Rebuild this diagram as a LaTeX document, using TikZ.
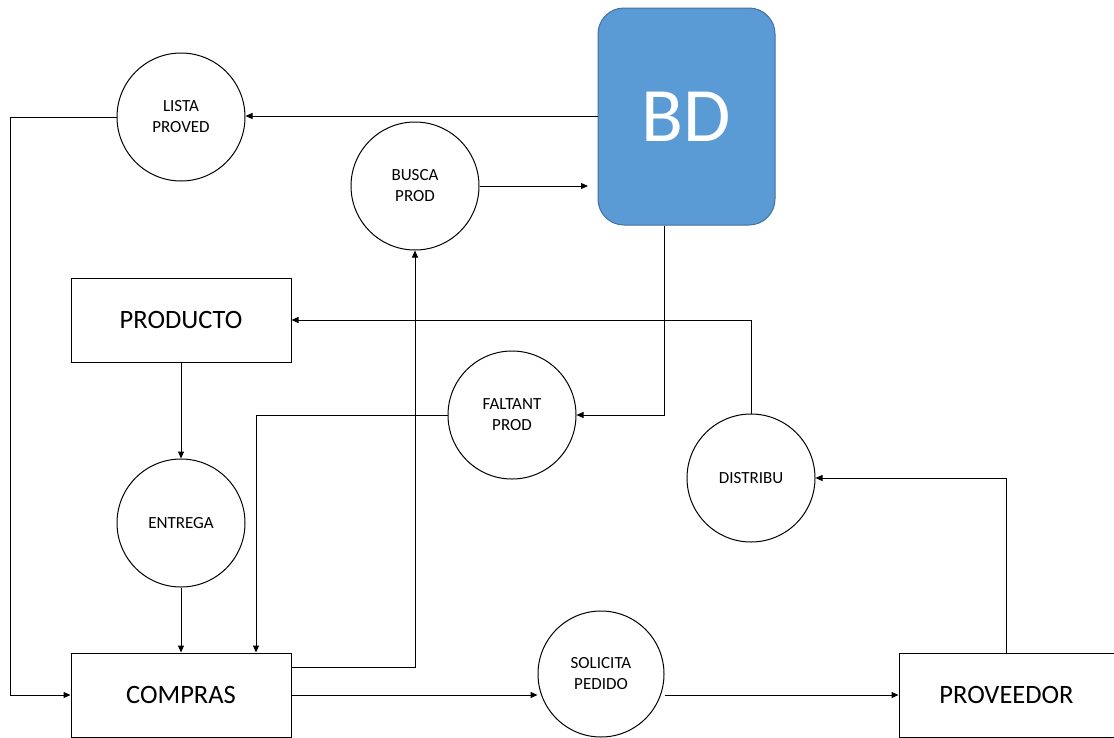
\documentclass[tikz,border=0pt]{standalone}
\usepackage{fontspec}
\setmainfont{Carlito}
\usepackage{tikz}
\usetikzlibrary{calc,arrows.meta}
\def\circsize{128pt}
\tikzstyle{arrow} = [line width=1pt,-{Triangle[length=7pt,width=6pt]}]
\definecolor{bdfill}{HTML}{5B9BD5}
\definecolor{bdline}{HTML}{41719C}

\begin{document}
\begin{tikzpicture}[x=1pt,y=-1pt]
    \tikzstyle{process}=[circle,draw=black,line width=1pt,minimum size=\circsize,inner sep=0pt,align=center,font=\fontsize{17}{21}\selectfont]
    \tikzstyle{entity}=[rectangle,draw=black,line width=1pt,minimum width=220pt,minimum height=84pt,inner sep=0pt,font=\fontsize{26.5}{30}\selectfont]
    \tikzstyle{store}=[rectangle,rounded corners=26pt,draw=bdline,fill=bdfill,line width=1pt,minimum width=177pt,minimum height=217pt,text=white,font=\fontsize{77}{84}\selectfont]

    \useasboundingbox (0,0) rectangle (1114,737);

    % Draw the data store
    \path node[store] (BD) at (686.5,116.5) {BD};

    % Draw the entity boxes
    \path node[entity] (PRODUCTO) at (181,320) {PRODUCTO};
    \path node[entity] (COMPRAS) at (181,695) {COMPRAS};
    \path node[entity,minimum width=215pt] (PROVEEDOR) at (1006.5,695) {PROVEEDOR};

    % Draw the process circles
    \path node[process] (LISTA) at (181,117) {LISTA\\PROVED};
    \path node[process] (BUSCA) at (415,186) {BUSCA\\PROD};
    \path node[process] (FALTANT) at (512,415) {FALTANT\\PROD};
    \path node[process] (DISTRIBU) at (751,478) {DISTRIBU};
    \path node[process] (ENTREGA) at (181,523) {ENTREGA};
    \path node[process,minimum size=126pt] (SOLICITA) at (601,674) {SOLICITA\\PEDIDO};

    \coordinate (bdin) at (588,186);

    % Draw the flows
    \draw[arrow] (BD.west |- 0,116) -- (LISTA.east |- 0,116);
    \draw[arrow] (LISTA.west) -- (10,117) |- (COMPRAS.west);
    \draw[arrow] (BUSCA.east) -- (bdin);
    \draw[arrow] (COMPRAS.east |- 0,667) -| (BUSCA.south);
    \draw[arrow] (664,0 |- BD.south) |- (FALTANT.east);
    \draw[arrow] (FALTANT.west) -| (256,0 |- COMPRAS.north);
    \draw[arrow] (DISTRIBU.north) |- (PRODUCTO.east);
    \draw[arrow] (PRODUCTO.south) -- (ENTREGA.north);
    \draw[arrow] (ENTREGA.south) -- (COMPRAS.north);
    \draw[arrow] (COMPRAS.east) -- (COMPRAS.east -| SOLICITA.west);
    \draw[arrow] (SOLICITA.east |- PROVEEDOR.west) -- (PROVEEDOR.west);
    \draw[arrow] (PROVEEDOR.north) |- (DISTRIBU.east);

\end{tikzpicture}
\end{document}
